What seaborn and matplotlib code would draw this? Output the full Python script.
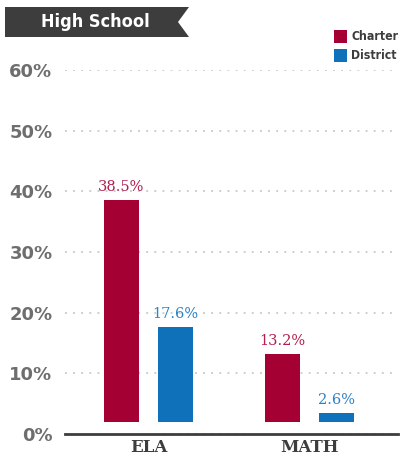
import numpy as np
import pandas as pd
import matplotlib
matplotlib.use('Agg')
import matplotlib.pyplot as plt
import seaborn as sns
from matplotlib.patches import Polygon, Rectangle

categories = ['ELA', 'MATH']
groups = ['Charter', 'District']
charter = [38.5, 13.2]
district = [17.6, 2.6]
yticks = [0, 10, 20, 30, 40, 50, 60]
title = 'High School'

df = pd.DataFrame({
    'category': categories * 2,
    'group': ['Charter'] * 2 + ['District'] * 2,
    'value': charter + district,
})

colors = {'Charter': '#a50034', 'District': '#0f71b9'}
label_colors = {'Charter': '#b3204d', 'District': '#2a83c5'}
dark = '#3d3d3d'

sns.set_theme(style='white')
W, H = 401, 455
fig = plt.figure(figsize=(W / 100, H / 100), dpi=100)
ax = fig.add_axes([65 / W, (H - 434) / H, (398 - 65) / W, (434 - 70) / H])

sns.barplot(data=df, x='category', y='value', hue='group', order=categories,
            hue_order=groups, palette=colors, width=0.672, gap=0.354, ax=ax,
            legend=False, saturation=1, errorbar=None, linewidth=0)

base = 2.0
for cont, g in zip(ax.containers, groups):
    for p in cont.patches:
        h = p.get_height()
        top = max(h, base + 1.5)
        p.set_y(base)
        p.set_height(top - base)
        ax.text(p.get_x() + p.get_width() / 2, top + 1.0, f'{h:.1f}%',
                ha='center', va='bottom', color=label_colors[g],
                family='DejaVu Serif', fontsize=10.5)

ax.set_ylim(0, 60)
ax.set_xlim(-0.519, 1.55)
ax.set_yticks(yticks)
ax.set_yticklabels([f'{v}%' for v in yticks], fontsize=13, fontweight='bold',
                   color='#6e6e6e', family='DejaVu Sans')
ax.tick_params(axis='y', length=0, pad=9)
ax.tick_params(axis='x', length=0, pad=3.5)
for lab in ax.get_xticklabels():
    lab.set_family('DejaVu Serif')
    lab.set_fontweight('bold')
    lab.set_fontsize(12)
    lab.set_color(dark)
ax.set_xlabel('')
ax.set_ylabel('')
for s in ['top', 'right', 'left']:
    ax.spines[s].set_visible(False)
ax.spines['bottom'].set_color(dark)
ax.spines['bottom'].set_linewidth(2)
ax.yaxis.grid(True, color='#c8c8c8', linestyle=(0, (1, 3.5)), linewidth=1.3)
ax.xaxis.grid(False)
ax.set_axisbelow(True)

# title ribbon
pts = [(5, 7), (189, 7), (178, 22), (189, 37), (5, 37)]
fig.patches.append(Polygon([(x / W, 1 - y / H) for x, y in pts], closed=True,
                           transform=fig.transFigure, facecolor=dark,
                           edgecolor='none'))
fig.text(95 / W, 1 - 22 / H, title, color='white', fontweight='bold',
         fontsize=13, ha='center', va='center', family='DejaVu Sans',
         fontstretch='condensed')

# legend
for i, g in enumerate(groups):
    y0 = 30 + i * 19
    fig.patches.append(Rectangle((334 / W, 1 - (y0 + 13) / H), 13 / W, 13 / H,
                                 transform=fig.transFigure,
                                 facecolor=colors[g], edgecolor='none'))
    fig.text(351 / W, 1 - (y0 + 6.5) / H, g, color=dark, fontweight='bold',
             fontsize=8.8, ha='left', va='center', family='DejaVu Sans',
             fontstretch='condensed')

fig.savefig('out.png', dpi=100)
